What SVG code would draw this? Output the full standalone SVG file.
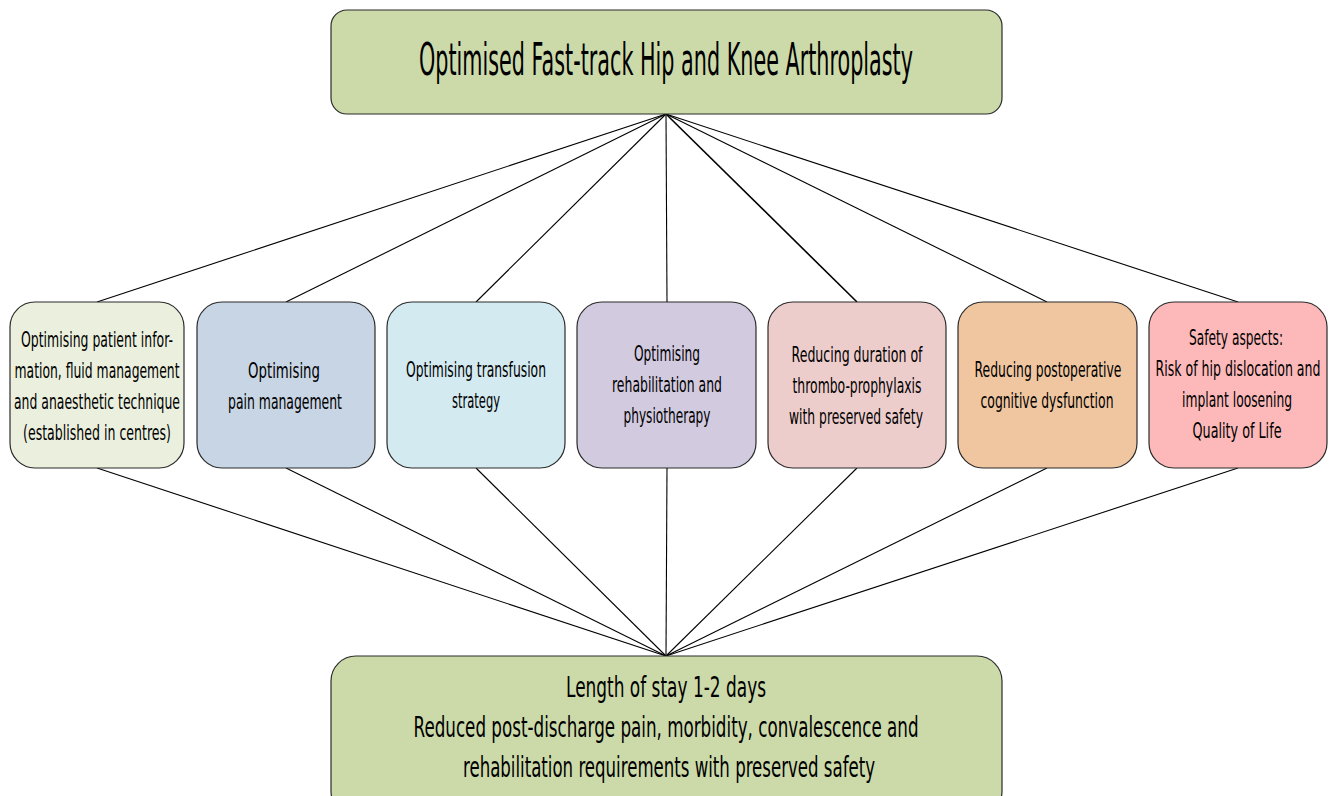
<svg xmlns="http://www.w3.org/2000/svg" width="1330" height="796" viewBox="0 0 1330 796">
<style>
.box{stroke:#2b2b2b;stroke-width:1.2}
.t{font-family:"DejaVu Sans","Liberation Sans",sans-serif;fill:#000;text-anchor:middle}
.m{font-size:22px}
.c line{stroke:#000;stroke-width:1.1}
</style>
<rect width="1330" height="796" fill="#fff"/>
<g class="c" id="connectors">
<line x1="666" y1="114" x2="97" y2="302"/>
<line x1="666" y1="114" x2="286" y2="302"/>
<line x1="666" y1="114" x2="476" y2="302"/>
<line x1="666" y1="114" x2="667" y2="302"/>
<line x1="666" y1="114" x2="857" y2="302" style="stroke-width:1.6"/>
<line x1="666" y1="114" x2="1047" y2="302"/>
<line x1="666" y1="114" x2="1238" y2="302"/>
<line x1="97" y1="468" x2="666" y2="656"/>
<line x1="286" y1="468" x2="666" y2="656"/>
<line x1="476" y1="468" x2="666" y2="656"/>
<line x1="667" y1="468" x2="666" y2="656"/>
<line x1="857" y1="468" x2="666" y2="656"/>
<line x1="1047" y1="468" x2="666" y2="656"/>
<line x1="1238" y1="468" x2="666" y2="656"/>
</g>
<g id="top">
<rect class="box" x="331" y="10" width="671" height="104" rx="16" fill="#CCDAAA"/>
<text class="t" x="666" y="75" font-size="44" textLength="494" lengthAdjust="spacingAndGlyphs">Optimised Fast-track Hip and Knee Arthroplasty</text>
</g>
<g id="n1">
<rect class="box" x="10" y="302" width="174" height="166" rx="25" fill="#EBF0DE"/>
<text class="t m" x="97" y="347" textLength="152" lengthAdjust="spacingAndGlyphs">Optimising patient infor-</text>
<text class="t m" x="97" y="378" textLength="165" lengthAdjust="spacingAndGlyphs">mation, fluid management</text>
<text class="t m" x="97" y="409" textLength="166" lengthAdjust="spacingAndGlyphs">and anaesthetic technique</text>
<text class="t m" x="97" y="440" textLength="148" lengthAdjust="spacingAndGlyphs">(established in centres)</text>
</g>
<g id="n2">
<rect class="box" x="197" y="302" width="178" height="166" rx="25" fill="#C8D5E5"/>
<text class="t m" x="284" y="378" textLength="72" lengthAdjust="spacingAndGlyphs">Optimising</text>
<text class="t m" x="285" y="409" textLength="114" lengthAdjust="spacingAndGlyphs">pain management</text>
</g>
<g id="n3">
<rect class="box" x="387" y="302" width="178" height="166" rx="25" fill="#D3EAF0"/>
<text class="t m" x="476" y="377" textLength="140" lengthAdjust="spacingAndGlyphs">Optimising transfusion</text>
<text class="t m" x="476" y="408" textLength="48" lengthAdjust="spacingAndGlyphs">strategy</text>
</g>
<g id="n4">
<rect class="box" x="577" y="302" width="179" height="166" rx="25" fill="#D2CADF"/>
<text class="t m" x="667" y="361" textLength="66" lengthAdjust="spacingAndGlyphs">Optimising</text>
<text class="t m" x="667" y="392" textLength="110" lengthAdjust="spacingAndGlyphs">rehabilitation and</text>
<text class="t m" x="667" y="423" textLength="87" lengthAdjust="spacingAndGlyphs">physiotherapy</text>
</g>
<g id="n5">
<rect class="box" x="768" y="302" width="178" height="166" rx="25" fill="#EDCDCB"/>
<text class="t m" x="857" y="362" textLength="131" lengthAdjust="spacingAndGlyphs">Reducing duration of</text>
<text class="t m" x="857" y="393" textLength="129" lengthAdjust="spacingAndGlyphs">thrombo-prophylaxis</text>
<text class="t m" x="856" y="424" textLength="134" lengthAdjust="spacingAndGlyphs">with preserved safety</text>
</g>
<g id="n6">
<rect class="box" x="958" y="302" width="179" height="166" rx="25" fill="#F0C6A0"/>
<text class="t m" x="1048" y="377" textLength="147" lengthAdjust="spacingAndGlyphs">Reducing postoperative</text>
<text class="t m" x="1047" y="408" textLength="133" lengthAdjust="spacingAndGlyphs">cognitive dysfunction</text>
</g>
<g id="n7">
<rect class="box" x="1149" y="302" width="178" height="166" rx="25" fill="#FDB9BA"/>
<text class="t m" x="1236" y="345" textLength="94" lengthAdjust="spacingAndGlyphs">Safety aspects:</text>
<text class="t m" x="1238" y="376" textLength="165" lengthAdjust="spacingAndGlyphs">Risk of hip dislocation and</text>
<text class="t m" x="1237" y="407" textLength="110" lengthAdjust="spacingAndGlyphs">implant loosening</text>
<text class="t m" x="1237" y="438" textLength="89" lengthAdjust="spacingAndGlyphs">Quality of Life</text>
</g>
<g id="bottom">
<rect class="box" x="331" y="656" width="671" height="160" rx="25" fill="#CCDAAA"/>
<text class="t" x="666" y="697" font-size="29" textLength="200" lengthAdjust="spacingAndGlyphs">Length of stay 1-2 days</text>
<text class="t" x="666" y="737" font-size="29" textLength="505" lengthAdjust="spacingAndGlyphs">Reduced post-discharge pain, morbidity, convalescence and</text>
<text class="t" x="669" y="777" font-size="29" textLength="412" lengthAdjust="spacingAndGlyphs">rehabilitation requirements with preserved safety</text>
</g>
</svg>
